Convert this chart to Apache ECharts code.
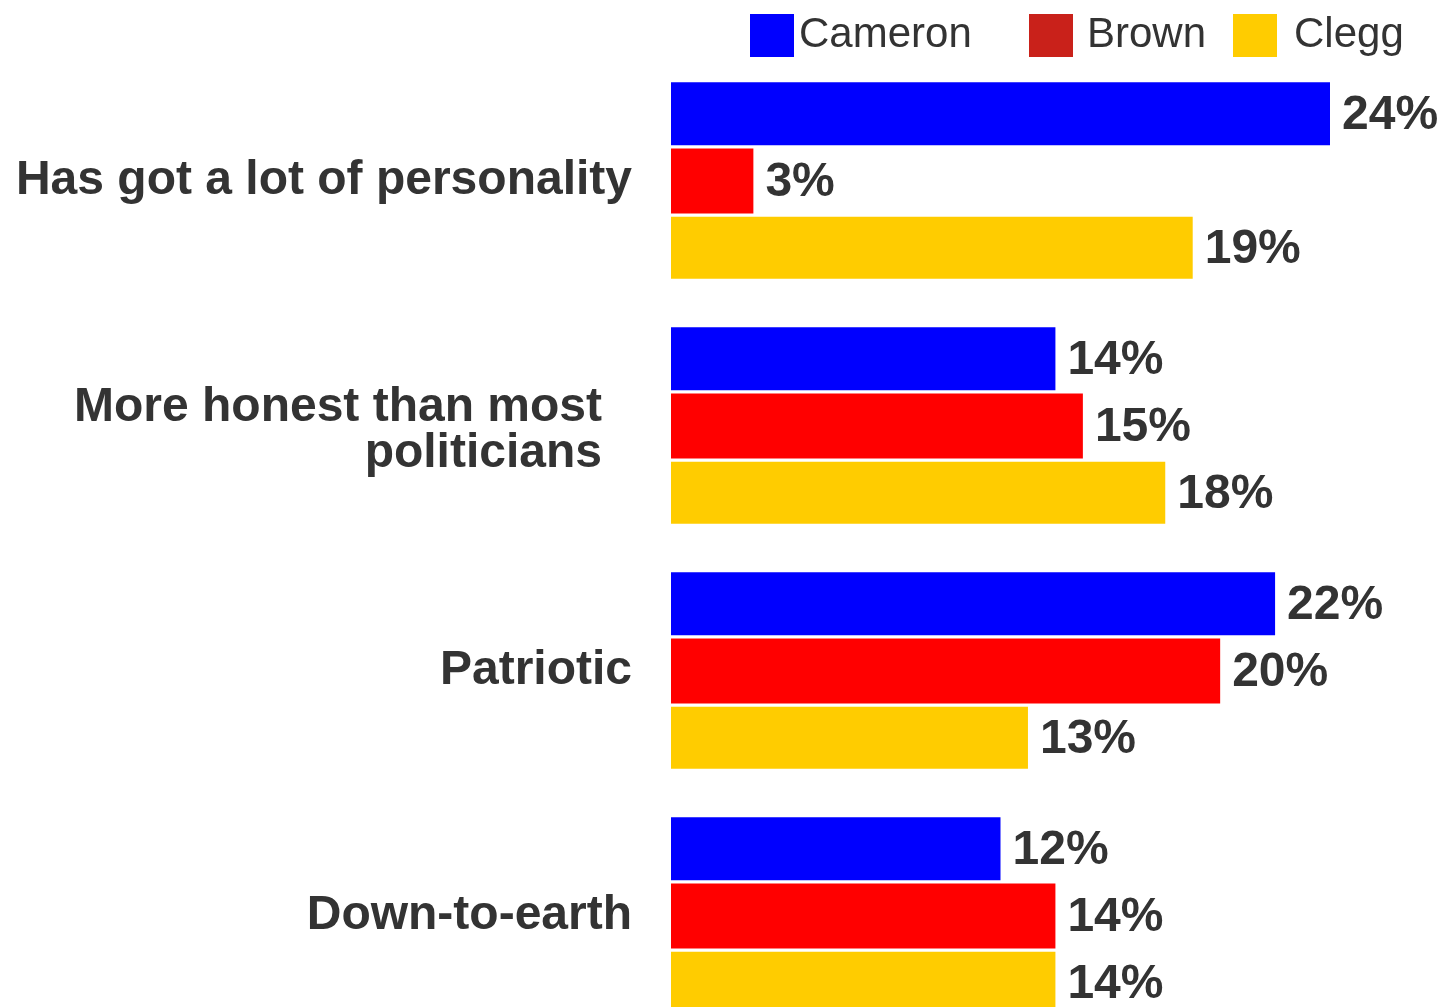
<!DOCTYPE html>
<html>
<head>
<meta charset="utf-8">
<script src="https://cdn.jsdelivr.net/npm/echarts@6/dist/echarts.min.js"></script>
<style>
html,body{margin:0;padding:0;background:#fff;overflow:hidden;width:1441px;height:1007px;}
#chart{width:1441px;height:1040px;}
</style>
</head>
<body>
<div id="chart"></div>
<script>
const categories = ['Has got a lot of personality', 'More honest than most\npoliticians', 'Patriotic', 'Down-to-earth'];
const seriesNames = ['Cameron', 'Brown', 'Clegg'];
const cameron = [24, 14, 22, 12];
const brown = [3, 15, 20, 14];
const clegg = [19, 18, 13, 14];

const FONT = '"Liberation Sans", Arial, Helvetica, sans-serif';
const TEXT = '#333333';
const barColors = ['#0000ff', '#ff0000', '#ffcc00'];
const legendColors = ['#0000ff', '#c9211a', '#ffcc00'];

const chart = echarts.init(document.getElementById('chart'), null, {renderer: 'canvas'});

function makeLegend(i, left, padLeft) {
  return {
    data: [{name: seriesNames[i], itemStyle: {color: legendColors[i]}}],
    left: left,
    top: 14,
    padding: 0,
    icon: 'rect',
    itemWidth: 44,
    itemHeight: 43,
    selectedMode: false,
    textStyle: {fontSize: 42, color: TEXT, fontFamily: FONT, padding: [0, 0, 0, padLeft]}
  };
}

const labelStyle = {
  show: true,
  position: 'right',
  distance: 12,
  offset: [0, 2],
  formatter: '{c}%',
  fontSize: 48,
  fontWeight: 'bold',
  color: TEXT,
  fontFamily: FONT
};

const datasets = [cameron, brown, clegg];
const widths = [63, 65, 62];

chart.setOption({
  backgroundColor: '#ffffff',
  animation: false,
  legend: [makeLegend(0, 750, 0), makeLegend(1, 1029, 9), makeLegend(2, 1233, 12)],
  grid: {left: 671, top: 58, width: 659, height: 980, containLabel: false},
  xAxis: {
    type: 'value', min: 0, max: 24, show: false,
    splitLine: {show: false}
  },
  yAxis: {
    type: 'category',
    inverse: true,
    data: categories,
    axisLine: {show: false},
    axisTick: {show: false},
    splitLine: {show: false},
    axisLabel: {
      margin: 39,
      fontSize: 48,
      fontWeight: 'bold',
      color: TEXT,
      fontFamily: FONT,
      formatter: function (v) {
        if (v.indexOf('\n') >= 0) {
          return '{s| }\n' + v.split('\n').map(function (s) { return '{w|' + s + '}'; }).join('\n');
        }
        return v;
      },
      rich: {
        s: {fontSize: 1, lineHeight: 10, color: 'rgba(0,0,0,0)'},
        w: {fontSize: 48, fontWeight: 'bold', color: TEXT, fontFamily: FONT, lineHeight: 46, padding: [0, 30, 0, 0]}
      }
    }
  },
  series: seriesNames.map(function (name, i) {
    return {
      name: name,
      type: 'bar',
      data: datasets[i],
      barWidth: widths[i],
      barGap: '5%',
      itemStyle: {color: barColors[i]},
      label: labelStyle,
      emphasis: {disabled: true}
    };
  })
});
</script>
</body>
</html>
